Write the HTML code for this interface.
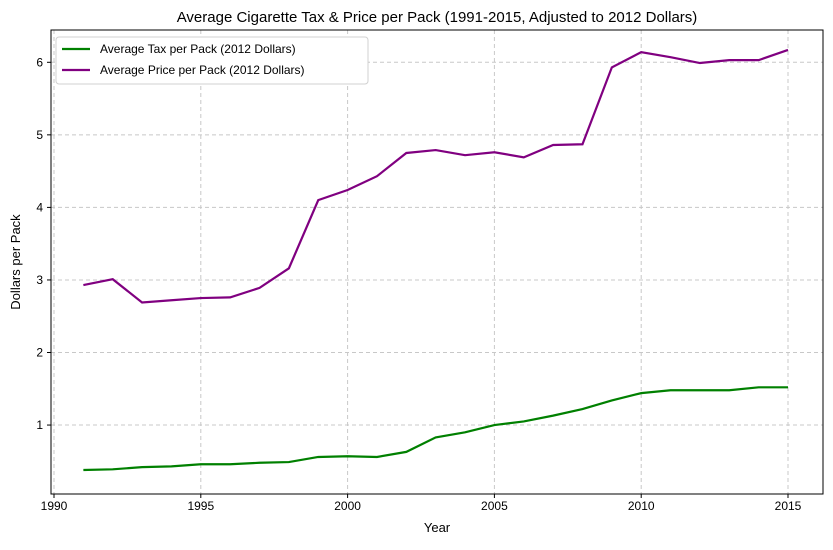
<!DOCTYPE html>
<html><head><meta charset="utf-8"><style>
body{margin:0;background:#fff;font-family:"Liberation Sans",sans-serif}
svg text{font-family:"Liberation Sans",sans-serif;fill:#000}
</style></head><body>
<svg id="chart" width="833" height="545"></svg>
<script>
const years=[1991,1992,1993,1994,1995,1996,1997,1998,1999,2000,2001,2002,2003,2004,2005,2006,2007,2008,2009,2010,2011,2012,2013,2014,2015];
const priceValues=[2.93,3.01,2.69,2.72,2.75,2.76,2.89,3.16,4.10,4.24,4.43,4.75,4.79,4.72,4.76,4.69,4.86,4.87,5.93,6.14,6.07,5.99,6.03,6.03,6.17];
const taxValues=[0.38,0.39,0.42,0.43,0.46,0.46,0.48,0.49,0.56,0.57,0.56,0.63,0.83,0.90,1.00,1.05,1.13,1.22,1.34,1.44,1.48,1.48,1.48,1.52,1.52];
const xTicks=[1990,1995,2000,2005,2010,2015];
const yTicks=[1,2,3,4,5,6];
const NS="http://www.w3.org/2000/svg";
const svg=document.getElementById('chart');
const L=51,R=823,T=30,B=494;
const x=v=>54+(v-1990)*(788-54)/25;
const y=v=>497.6-v*72.55;
function el(tag,attrs,txt){const e=document.createElementNS(NS,tag);for(const k in attrs)e.setAttribute(k,attrs[k]);if(txt!==undefined)e.textContent=txt;svg.appendChild(e);return e;}
xTicks.forEach(t=>{
 const g=el('line',{x1:x(t),x2:x(t),y1:T,y2:B,stroke:'#c8c8c8','stroke-dasharray':'4,3'});
 
 el('line',{x1:x(t),x2:x(t),y1:B,y2:B+4,stroke:'#000'});
 const lb=el('text',{x:x(t),y:B+16,'text-anchor':'middle','font-size':12},t);
 
});
yTicks.forEach(t=>{
 const g=el('line',{x1:L,x2:R,y1:y(t),y2:y(t),stroke:'#c8c8c8','stroke-dasharray':'4,3'});
 
 el('line',{x1:L-4,x2:L,y1:y(t),y2:y(t),stroke:'#000'});
 const lb=el('text',{x:L-8,y:y(t)+4,'text-anchor':'end','font-size':12},t);
 
});
function series(vals,color,name){
 const p=el('polyline',{points:years.map((yr,i)=>x(yr)+','+y(vals[i])).join(' '),fill:'none',stroke:color,'stroke-width':2.2});
 
}
series(taxValues,'#008000','tax-line');
series(priceValues,'#800080','price-line');
const frame=el('rect',{x:L,y:T,width:R-L,height:B-T,fill:'none',stroke:'#000','stroke-width':1});

const title=el('text',{x:437,y:22,'text-anchor':'middle','font-size':15},'Average Cigarette Tax & Price per Pack (1991-2015, Adjusted to 2012 Dollars)');

const xt=el('text',{x:437,y:532,'text-anchor':'middle','font-size':13},'Year');

const yt=el('text',{x:20,y:262,'text-anchor':'middle','font-size':13,transform:'rotate(-90 20 262)'},'Dollars per Pack');

const lg=el('rect',{x:56,y:37,width:312,height:47,fill:'#fff',stroke:'#d0d0d0',rx:3});

[['Average Tax per Pack (2012 Dollars)','#008000',49],['Average Price per Pack (2012 Dollars)','#800080',70]].forEach(([t,c,yy])=>{
 el('line',{x1:62,x2:90,y1:yy,y2:yy,stroke:c,'stroke-width':2.2});
 const e=el('text',{x:100,y:yy+4,'font-size':12},t);
 
});
</script>
</body></html>
